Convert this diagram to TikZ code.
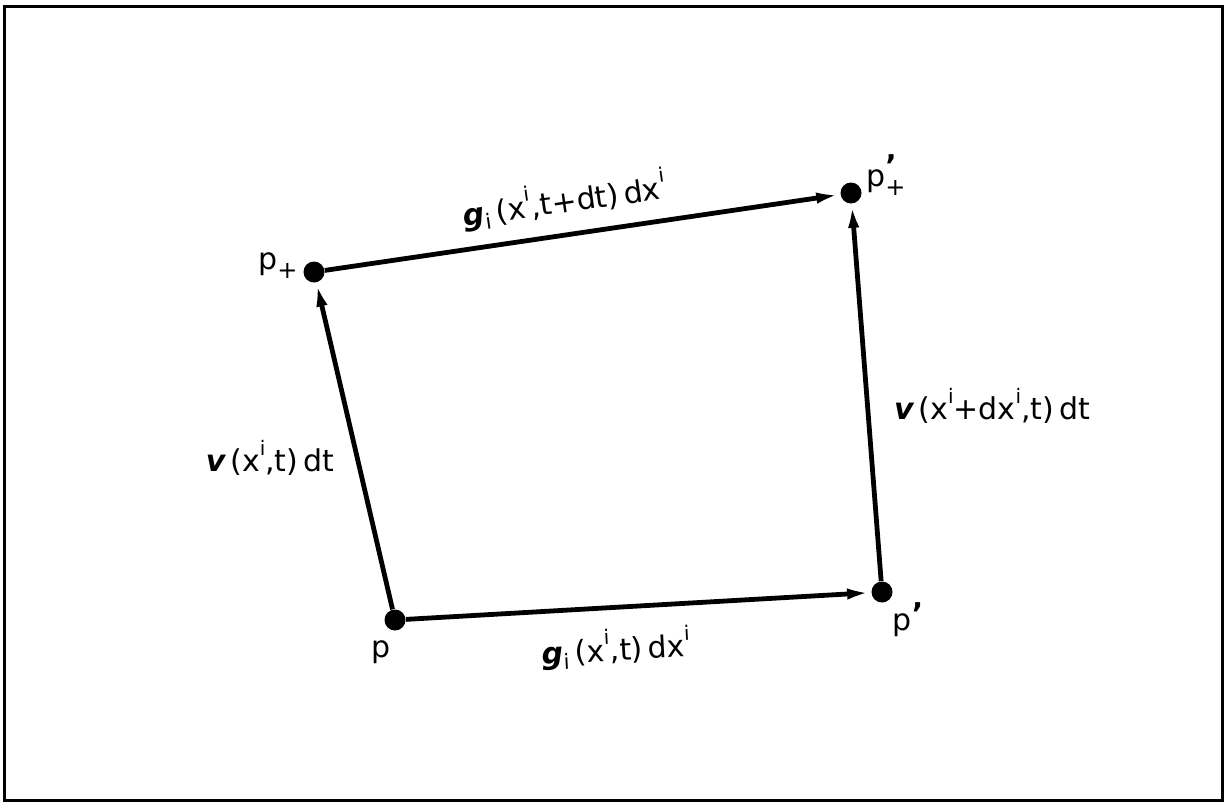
\documentclass[tikz,border=0pt]{standalone}
\usepackage{fontspec}
\setmainfont{DejaVu Sans}
\usetikzlibrary{arrows.meta}
\tikzset{
  dot/.style={circle,fill=black,inner sep=0pt,minimum size=10.5pt},
  edge/.style={line width=2.4pt,-{Latex[length=13pt,width=5.5pt]},shorten >=-1pt},
  lbl/.style={font=\fontsize{15}{17}\selectfont,inner sep=1pt}
}
\newcommand{\gvec}{{\bfseries\itshape g}\textsubscript{i}}
\newcommand{\vvec}{{\bfseries\itshape v}}
\newcommand{\up}[1]{\raisebox{0.55em}{\fontsize{10}{11}\selectfont #1}}
\newcommand{\dn}[1]{\raisebox{-0.3em}{\fontsize{12}{12}\selectfont #1}}
\newcommand{\prm}{\raisebox{0.2em}{\bfseries ’}}
\begin{document}
\begin{tikzpicture}[x=0.5pt,y=-0.5pt]
	
	% frame
	\useasboundingbox (0,0) rectangle (1226,804);
	\draw[line width=1.5pt] (4,6) rectangle (1222,800);
	
	% corners of the cell
	\node[dot] (p)  at (395,620) {};
	\node[dot] (pr) at (882,592) {};
	\node[dot] (pu) at (314,272) {};
	\node[dot] (pur) at (851,193) {};
	
	% names of the points
	\node[lbl] (np)   at (381,652) {p};
	\node[lbl] (npr)  at (908,620) {p\prm};
	\node[lbl] (npu)  at (278,266) {p\dn{+}};
	\node[lbl] (npur) at (886,175) {p\rlap{\raisebox{0.35em}{\bfseries ’}}\dn{+}};
	
	% the four displacements
	\draw[edge] (p) -- (pr);
	\draw[edge] (pu) -- (pur);
	\draw[edge] (p) -- (pu);
	\draw[edge] (pr) -- (pur);
	
	% labels on the displacements
	\node[lbl,rotate=8] (gtop) at (564,200) {\gvec\,(x\up{i},t+dt)\,dx\up{i}};
	\node[lbl,rotate=3] (gbot) at (616,648) {\gvec\,(x\up{i},t)\,dx\up{i}};
	\node[lbl] (vleft)  at (270,458) {\vvec\,(x\up{i},t)\,dt};
	\node[lbl] (vright) at (992,406) {\vvec\,(x\up{i}+dx\up{i},t)\,dt};
	
\end{tikzpicture}
\end{document}
